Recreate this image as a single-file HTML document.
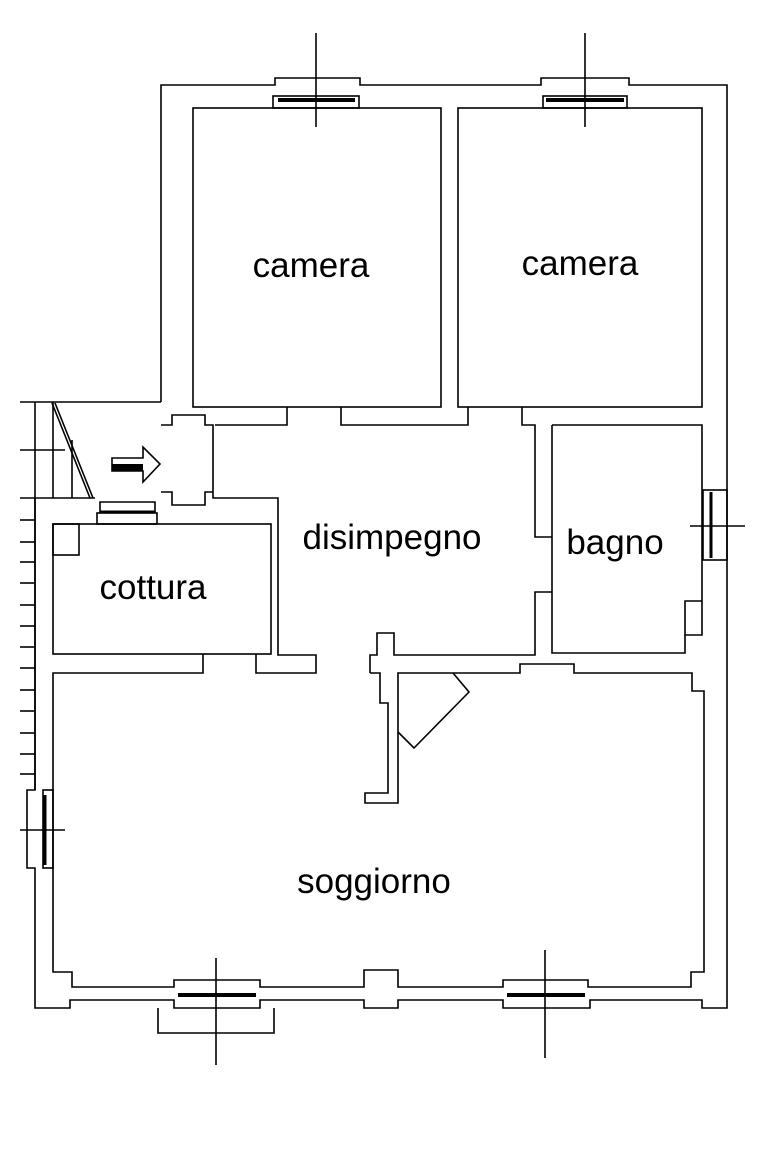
<!DOCTYPE html>
<html><head><meta charset="utf-8"><style>
html,body{margin:0;padding:0;background:#fff}
svg{display:block}
text{font-family:"Liberation Sans",sans-serif;font-size:35px;fill:#000;text-anchor:middle}
</style></head><body>
<svg width="768" height="1152" viewBox="0 0 768 1152" xmlns="http://www.w3.org/2000/svg">
<g fill="none" stroke="#000" stroke-width="1.6">
<polyline points="161,402 161,85 275,85 275,78 360,78 360,85 541,85 541,78 629,78 629,85 727,85 727,1008 702,1008 702,1000 590,1000 590,1008 503,1008 503,1000 398,1000 398,1008 364,1008 364,1000 260,1000 260,1008 174,1008 174,1000 70,1000 70,1008 35,1008 35,868 27,868 27,790 35,790 35,498"/>
<rect x="193" y="108" width="248" height="299"/>
<rect x="458" y="108" width="244" height="299"/>
<rect x="273" y="96" width="86" height="12"/>
<rect x="543" y="96" width="84" height="12"/>
<line x1="278" y1="100" x2="355" y2="100" stroke-width="4"/>
<line x1="546" y1="100" x2="624" y2="100" stroke-width="4"/>
<line x1="316" y1="33" x2="316" y2="127"/>
<line x1="585" y1="33" x2="585" y2="127"/>
<polyline points="215,425 287,425 287,407"/>
<polyline points="341,407 341,425 468,425 468,407"/>
<polyline points="522,407 522,425 535,425 535,537 552,537"/>
<polyline points="552,592 535,592 535,655 394,655 394,633 377,633 377,655 370,655 370,673"/>
<polyline points="161,425 172,425 172,415 205,415 205,425 213,425 213,498 278,498 278,655 316,655 316,673 256,673 256,654"/>
<polyline points="161,492 172,492 172,505 205,505 205,492 213,492"/>
<polyline points="552,425 702,425 702,601 685,601 685,635 702,635 702,490"/>
<polyline points="552,425 552,653 685,653 685,635"/>
<rect x="703" y="490" width="24" height="70"/>
<line x1="711" y1="492" x2="711" y2="558" stroke-width="3"/>
<line x1="690" y1="526" x2="745" y2="526"/>
<rect x="53" y="524" width="218" height="130"/>
<rect x="53" y="524" width="26" height="31"/>
<rect x="97" y="513" width="60" height="11"/>
<polyline points="100,513 100,502 155,502 155,513"/>
<line x1="100" y1="512" x2="155" y2="512" stroke-width="3"/>
<polyline points="203,654 203,673 53,673 53,972 72,972 72,987 174,987 174,980 260,980 260,987 364,987 364,970 398,970 398,987 503,987 503,980 588,980 588,987 691,987 691,972 704,972 704,691 692,691 692,673 574,673 574,664 520,664 520,673 398,673 398,803 365,803 365,793 388,793 388,703 380,703 380,673 370,673"/>
<polyline points="453,673 469,692 414,748 398,732"/>
<line x1="178" y1="995" x2="256" y2="995" stroke-width="4"/>
<line x1="507" y1="995" x2="585" y2="995" stroke-width="4"/>
<polyline points="158,1008 158,1033 274,1033 274,1008"/>
<line x1="216" y1="958" x2="216" y2="1065"/>
<line x1="545" y1="950" x2="545" y2="1058"/>
<rect x="43" y="790" width="10" height="78"/>
<line x1="45" y1="795" x2="45" y2="865" stroke-width="3"/>
<line x1="20" y1="830" x2="65" y2="830"/>
<line x1="20" y1="402" x2="161" y2="402"/>
<line x1="20" y1="450" x2="65" y2="450"/>
<line x1="20" y1="498" x2="95" y2="498"/>
<line x1="35" y1="402" x2="35" y2="790"/>
<line x1="53" y1="402" x2="53" y2="498"/>
<line x1="72" y1="440" x2="72" y2="498"/>
<line x1="52" y1="403" x2="90" y2="498"/>
<line x1="55" y1="403" x2="93" y2="498"/>
<g>
<line x1="20" y1="520" x2="35" y2="520"/><line x1="20" y1="542" x2="35" y2="542"/>
<line x1="20" y1="562" x2="35" y2="562"/><line x1="20" y1="583" x2="35" y2="583"/>
<line x1="20" y1="605" x2="35" y2="605"/><line x1="20" y1="626" x2="35" y2="626"/>
<line x1="20" y1="647" x2="35" y2="647"/><line x1="20" y1="668" x2="35" y2="668"/>
<line x1="20" y1="690" x2="35" y2="690"/><line x1="20" y1="711" x2="35" y2="711"/>
<line x1="20" y1="733" x2="35" y2="733"/><line x1="20" y1="754" x2="35" y2="754"/>
<line x1="20" y1="774" x2="35" y2="774"/>
</g>
<polygon points="112,458 143,458 143,447 160,464 143,482 143,471 112,471"/>
</g>
<rect x="112" y="464" width="31" height="7" fill="#000"/>
<text x="311" y="277">camera</text>
<text x="580" y="275">camera</text>
<text x="392" y="549">disimpegno</text>
<text x="615" y="554">bagno</text>
<text x="153" y="599">cottura</text>
<text x="374" y="893">soggiorno</text>
</svg>
</body></html>
